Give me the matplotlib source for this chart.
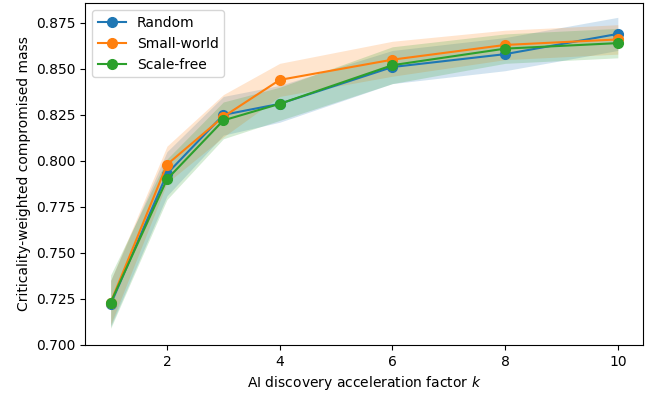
import matplotlib
matplotlib.use("Agg")
import matplotlib.pyplot as plt
import numpy as np

k = [1, 2, 3, 4, 6, 8, 10]
labels = ["Random", "Small-world", "Scale-free"]
random_mean = [0.722, 0.793, 0.825, 0.831, 0.851, 0.858, 0.869]
random_lo = [0.710, 0.781, 0.814, 0.821, 0.842, 0.849, 0.860]
random_hi = [0.735, 0.805, 0.835, 0.841, 0.860, 0.867, 0.878]
small_mean = [0.723, 0.798, 0.824, 0.844, 0.855, 0.863, 0.866]
small_lo = [0.711, 0.788, 0.813, 0.835, 0.846, 0.855, 0.858]
small_hi = [0.735, 0.808, 0.836, 0.853, 0.865, 0.871, 0.874]
scale_mean = [0.723, 0.790, 0.822, 0.831, 0.852, 0.861, 0.864]
scale_lo = [0.709, 0.779, 0.812, 0.822, 0.842, 0.853, 0.856]
scale_hi = [0.738, 0.801, 0.832, 0.840, 0.862, 0.869, 0.872]

means = [random_mean, small_mean, scale_mean]
los = [random_lo, small_lo, scale_lo]
his = [random_hi, small_hi, scale_hi]
colors = ["#1f77b4", "#ff7f0e", "#2ca02c"]

fig = plt.figure(figsize=(6.51, 3.96), dpi=100)
ax = fig.add_axes([0.131, 0.129, 0.857, 0.863])
for m, lo, hi, c, lab in zip(means, los, his, colors, labels):
    ax.fill_between(k, lo, hi, color=c, alpha=0.2, linewidth=0)
    ax.plot(k, m, marker="o", color=c, label=lab, markersize=7, linewidth=1.5)

ax.set_ylim(0.700, 0.8857)
ax.set_xlabel("AI discovery acceleration factor $k$")
ax.set_ylabel("Criticality-weighted compromised mass")
ax.legend(loc="upper left")
fig.savefig("out.png", dpi=100)
